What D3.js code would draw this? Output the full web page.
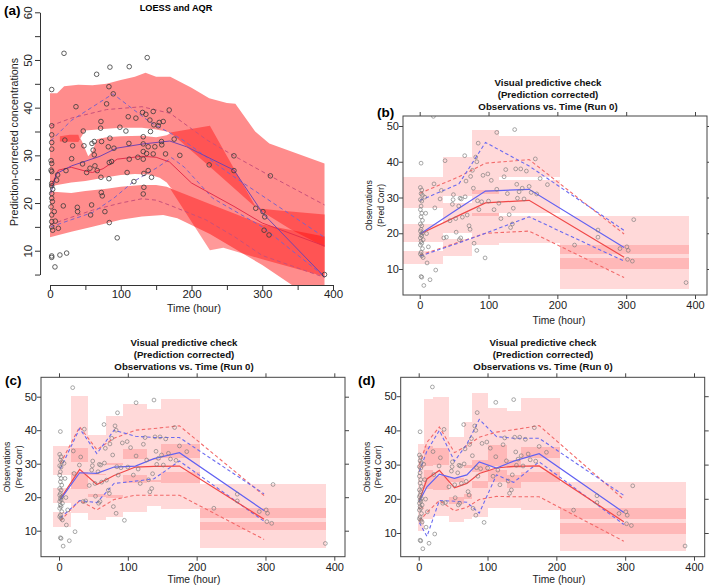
<!DOCTYPE html>
<html><head><meta charset="utf-8">
<script src="https://cdn.jsdelivr.net/npm/d3@7"></script>
<style>body{margin:0;background:#fff}svg{display:block}text{font-family:"Liberation Sans",Arial,Helvetica,sans-serif}</style>
</head><body><svg id="chart" width="709" height="586"></svg>
<script>
// ---------------- DATA ----------------
const xTickLabels = [0, 100, 200, 300, 400];
const vpcYTickLabels = [10, 20, 30, 40, 50];
const aYTickLabels = [10, 20, 30, 40, 50, 60];

// Panel (a): observations [time, conc]
const aObs = [[2.4,43.8],[2.4,36.2],[2.4,34.3],[2.4,32.7],[2.4,31.3],[1.5,28.9],[2.4,28.3],[1.5,26.9],[2.4,26.6],[2.4,24.1],[2.4,23.6],[3.8,22.9],[2.4,22],[2.4,21],[3.3,20.3],[1.5,19.2],[2.4,17.5],[2.4,16.1],[2.4,15],[3.8,14.3],[2.4,8.9],[2.4,8.6],[7,6.6],[6,18.2],[7.5,16.2],[9.4,24.8],[10.8,25.9],[11.8,14.7],[14,9.1],[19.8,51.4],[18.8,19.4],[21,33.2],[23.5,9.5],[22.6,26.8],[30.6,29.3],[32,32],[36.7,40.2],[38.6,19.1],[39,18.2],[47,35.1],[48,32],[51.8,26.4],[46,28.2],[56.5,27.3],[57.4,17.5],[58.8,19.6],[59.3,32.5],[61,31.1],[62.6,30.1],[62.6,32.9],[63.5,27.8],[65.9,47],[66.8,26.8],[71.5,35.7],[72,37.1],[72.9,32.9],[72,25.4],[72.5,22.2],[73.9,21.5],[77.6,18.2],[80,40.8],[82.4,31.8],[83.3,44.4],[83.8,28.5],[83.3,25.1],[83.8,15.9],[84.7,48.5],[84.7,33.6],[87,28.7],[89.4,42.9],[90.4,31.5],[95,12.7],[98.8,35.9],[107.3,35.1],[109,26.4],[110.6,38.1],[112,48.6],[112,29.2],[111.5,32.5],[118.6,24.5],[121.4,37.8],[124.2,29.6],[130.8,39],[131.8,33.9],[131.8,32.4],[131.8,30.8],[131.8,29.2],[131.8,21.9],[132.7,23.3],[132.7,26.2],[135.5,38.6],[137.4,50.5],[136.5,30.4],[138.8,26.8],[138.8,31.8],[141.2,37.4],[142,35],[143.5,25.4],[145.9,39.2],[146.8,36.4],[145.9,30.3],[148.2,31.8],[153,36.2],[154.4,36.9],[157.6,32.9],[158,32.2],[160,37.1],[163.3,30.3],[168.5,39.5],[175.5,33.4],[183.5,30],[225,28],[260,29.9],[260,26.8],[290.8,18.9],[301,18.2],[303.5,17.1],[302.6,14.3],[309.6,13.3],[311.5,25.7],[388,5]];

// Panel (a): prediction bands (top edge, bottom edge) [time, conc]
const aUpperTop = [[0,43],[10,43],[20,44.5],[40,44.8],[60,44.7],[80,45],[100,45.8],[120,46.5],[135,47.3],[150,46.5],[170,46.5],[200,44.2],[225,42],[250,41],[262,40.8],[290,35],[310,32.5],[388,28.3]];
const aUpperBot = [[0,33.6],[16,33.2],[30,32.9],[42,33.4],[50,35.2],[80,35.6],[100,35.8],[130,35.8],[150,35.4],[165,35],[172,34.6],[226,30],[292,18.9],[388,11]];
const aMidTop = [[0,33.6],[16,34.3],[40,34.3],[45,33],[50,31.2],[54,29.8],[60,30.8],[66,33.4],[80,33.8],[100,34],[130,34.1],[150,33.8],[165,34.2],[172,34.8],[226,36.2],[259,27.5],[292,18.9],[388,17.6]];
const aMidBot = [[0,23.4],[10,23.8],[30,24.3],[50,24.6],[80,25.4],[100,25.9],[120,26.1],[140,26],[155,25.3],[165,24.3],[170,23.3],[226,15],[300,9],[388,5]];
const aLowTop = [[0,22.4],[30,22.1],[50,22.5],[80,23],[100,23.4],[130,23.8],[150,23.8],[165,23.4],[170,23.1],[226,19.8],[300,15.5],[388,13]];
const aLowBot = [[0,12.8],[30,14],[60,15],[100,16.5],[130,17.2],[160,17.5],[180,16.8],[226,13.5],[260,10.5],[300,7],[345,2.5],[388,-3]];
// overlapping (darker) regions
const aPatchTop = [[14,34.0],[28,34.3],[40,34.3],[42,33.4]];
const aPatchBot = [[14,32.9],[40,32.8],[42,33.4]];
const aBowTop = [[170,34.8],[226,36.2],[259,27.5],[292,18.9],[320,18.5],[388,17.6]];
const aBowBot = [[170,34.8],[226,27.6],[292,18.9],[340,14.5],[388,10.8]];
const aStripTop = [[169.5,23.1],[226,19.8],[300,15.5],[388,13]];
const aStripBot = [[169.5,23.1],[226,10.1],[245,10.6],[300,8.2],[388,4.6]];
// lines
const aObsMed = [[1,22],[9.4,26.2],[30.6,27.8],[70.6,29.8],[94,31.5],[131.8,32.4],[169.4,33],[193,31.8],[260,26.9],[301,17.8],[388,4.5]];
const aSimMed = [[1,23.4],[12,26.9],[30,27.5],[50,26.7],[60,26.4],[75,27.2],[95,29.2],[130,29.8],[150,29.6],[169,28.6],[200,24.2],[260,19.3],[300,15.8],[388,11]];
const aObsHi = [[1,33],[30,37.3],[89,42.9],[141,37],[188,33.2],[259,25.6],[388,12.8]];
const aSimHi = [[1,36.2],[30,37.8],[80,39.6],[130,40.2],[170,38.8],[222,33.2],[260,29.9],[311,25.7],[388,19.6]];
const aObsLo = [[1,15],[30,16.5],[60,18],[90,21],[118,24.5],[150,27.3],[172,29.5],[190,27.5],[230,21],[300,15],[388,4.6]];
const aSimLo = [[1,15.5],[30,17],[60,18.5],[100,20],[130,20.9],[150,20.6],[170,19.5],[220,16.5],[260,13],[300,9],[388,4.4]];

// Panels (b)-(d): prediction-corrected observations [time, conc]
const vpcObs = [[2,39.6],[1,32.8],[3,32.1],[2,31.1],[4,30.6],[1,29.4],[3,29],[2,27.6],[1,26.6],[3,25.6],[2,24.6],[4,23.6],[1,22.6],[3,22.1],[2,21.1],[1,20.6],[4,20.1],[2,19.6],[3,19.2],[1,18.7],[5,18.2],[2,17.7],[3,17.2],[1,16.7],[4,15.7],[2,14.7],[1,14.2],[3,13.7],[5,13.2],[2,7.9],[3,7.7],[6,5.4],
[7.3,30.1],[8.7,25.6],[10,19.9],[12.6,16.2],[15,7],[10.7,11.7],[20.8,33.8],[22,27.1],[23.3,9.7],[19.9,52.7],[29.6,29.6],[31.5,32],[35,18.7],[36.8,40.3],[38.8,18.9],[47.5,28.1],[49,30.8],[48.5,29.4],[52.3,24.1],[56.7,27.6],[58.6,29.8],[59.6,18.7],[57.6,18.2],[60.5,29.6],[65.4,41.7],[67.3,34.6],[69,25.1],[71.7,22.1],[73.2,21.1],[74,35.9],[76.6,37.6],[78,32.6],[81.4,41.3],[83,40],[85,45.2],[84,29.1],[86,26.6],[79,17.2],[83,15.2],[95,13.1],[99,36.6],[104,34.8],[112,48.2],[112,32.3],[118,24.1],[122.6,35.8],[127.4,31.1],[132,21.6],[134.7,22.6],[138,49],[139.5,38],[142,29.8],[144.4,31.6],[146.8,38],[149,32.6],[151.6,29.6],[159,33.1],[168,40.8],[175,35.3],[185.6,33.6],
[44,23.5],[53,20.3],[62,24.5],[66,30.2],[90,28.8],[92,36.2],[100,29],[108,26.6],[115,28.4],[125,37.8],[130,25.2],[136,27],[141,33.7],[155,37.4],[162,31.4],[170,31],
[225,16.7],[259,20.9],[259,18.9],[291,15.7],[301,16.2],[303,15.2],[302,12.7],[309,12.2],[311,23.8],[387,6.2]];

// bins: [start, end, lo5, hi5, lo50, hi50, lo95, hi95]
const bBins = [[-25,33.6,11.4,15.1,17.6,22.5,27,35.7],[33.6,75.6,13.5,18.5,20,28.5,30.3,41.3],[75.6,115.6,16.7,25.8,24.8,32.2,31,48.9],[115.6,204,17.2,24.7,25.6,34.8,35.8,47.2],[204,391,4.4,13,10,16.7,14.2,24.8]];
const bLineX = [0.5, 57, 95.6, 159, 297];
const bObsMed = [19.8, 27, 31.8, 32.3, 16];
const bSimMed = [19.8, 25, 28.5, 29.2, 13.3];
const bObsHi = [29.2, 33.8, 45.4, 38.8, 20.8];
const bSimHi = [31.2, 35.8, 39.6, 40.6, 19.8];
const bObsLo = [13.6, 17.3, 20, 24.6, 12.2];
const bSimLo = [13.9, 17.5, 20, 20.6, 7.6];

const cBins = [[-9,17,11,15.7,18.2,22.6,26.6,35.3],[17,42.6,15.3,27.6,22.5,34.7,30.6,50.2],[42.6,67.8,13.2,21,20.2,27,26.5,38.6],[67.8,92.5,14.1,20.6,19.8,30.3,29.6,44.1],[92.5,127.4,15.7,26.6,24.1,34.4,31.4,47.8],[127.4,148.3,17.4,25,24.5,31.5,31,46.4],[148.3,204.5,16.4,27.4,24.1,35.8,31.8,49.3],[204.5,388,4.7,12.7,10.2,16.7,13.9,23.8]];
const cLineX = [2, 30, 55, 80, 111, 138, 175, 298];
const cObsMed = [19.3, 27.3, 27.1, 29.0, 29.3, 31.5, 33.3, 16];
const cSimMed = [19.5, 28.3, 23.8, 26.5, 29, 29.2, 29.3, 13.4];
const cObsHi = [28.5, 40.5, 33, 40, 38.2, 37.8, 37.8, 21];
const cSimHi = [30, 41, 34.2, 37.6, 40, 40.5, 41.3, 20.5];
const cObsLo = [13.8, 19, 18.4, 24.1, 24.8, 25.5, 30.8, 12.8];
const cSimLo = [13, 19, 16.2, 19.3, 20.6, 20.6, 20.6, 7.4];

const dBins = [[-1,7,10.5,17.5,17,30,29,35.9],[7,21,14,28.5,23,35.5,29.5,49.3],[21,43.5,14.9,26.8,22.5,35,30,49.9],[43.5,65.2,13.2,20.5,18.5,26,25,38.2],[65.2,77.3,14,21.5,20,30,29,42.5],[77.3,101.4,14.8,25.3,23.1,31.4,27.7,50.8],[101.4,128,17.2,28.4,25,35.8,29.5,46.5],[128,148.8,17.3,27,23.1,31.4,28.9,45.7],[148.8,205,16.6,27.7,24.8,35.2,31.8,49.6],[205,388,4.7,12.9,9.8,17.3,14.1,24.8]];
const dLineX = [1, 12, 30, 52, 70, 88, 113, 138, 175, 298];
const dObsMed = [19.3, 23.5, 27.2, 26, 27, 30.8, 29, 31, 33.2, 16];
const dSimMed = [19.5, 25.8, 28.3, 23.2, 24.5, 27.4, 29, 29.5, 29.6, 13.3];
const dObsHi = [28, 34, 40, 31, 36, 43.2, 38.2, 37.7, 37.7, 21];
const dSimHi = [30, 36.5, 41, 33.5, 35.5, 38, 39.5, 40.2, 41.4, 19.8];
const dObsLo = [13, 9, 19.5, 19.3, 19, 15.8, 27, 24.8, 30.8, 12.5];
const dSimLo = [13.5, 16, 19.5, 16.5, 17.5, 19.8, 20.7, 20.6, 20.6, 7.6];

const vpcTitle = ["Visual predictive check", "(Prediction corrected)", "Observations vs. Time (Run 0)"];

// ---------------- DRAW ----------------
const svg = d3.select("#chart");
const defs = svg.append("defs");

// ===== Panel (a) =====
const aX = d3.scaleLinear().domain([0, 400]).range([50, 333]);
const aY = d3.scaleLinear().domain([5, 60]).range([274.55, 12.3]);
defs.append("clipPath").attr("id", "clipA").append("rect").attr("x", 41).attr("y", 0).attr("width", 300).attr("height", 285);
const aLine = d3.line().x(d => aX(d[0])).y(d => aY(d[1]));
const band = (top, bot) => aLine(top.concat(bot.slice().reverse())) + "Z";
const gA = svg.append("g").attr("clip-path", "url(#clipA)");
[[aUpperTop, aUpperBot], [aMidTop, aMidBot], [aLowTop, aLowBot]].forEach(([t, b]) =>
  gA.append("path").attr("d", band(t, b)).attr("fill", "#ff8c8c"));
[[aPatchTop, aPatchBot], [aBowTop, aBowBot], [aStripTop, aStripBot]].forEach(([t, b]) =>
  gA.append("path").attr("d", band(t, b)).attr("fill", "#ff0000").attr("fill-opacity", 0.4));
[[aSimHi, "#c9507a", "4,3"], [aSimLo, "#c9507a", "4,3"], [aObsHi, "#7d62c8", "4,3"], [aObsLo, "#7d62c8", "4,3"],
 [aSimMed, "#e2304c", null], [aObsMed, "#7444b0", null]].forEach(([pts, col, dash]) =>
  gA.append("path").attr("d", aLine(pts)).attr("fill", "none").attr("stroke", col).attr("stroke-width", 1)
    .attr("stroke-dasharray", dash));
gA.selectAll("circle.a").data(aObs).join("circle").attr("cx", d => aX(d[0])).attr("cy", d => aY(d[1]))
  .attr("r", 2.3).attr("fill", "none").attr("stroke", "#3a3a3a").attr("stroke-width", 0.8);

const ayAxis = svg.append("g").attr("transform", "translate(40,0)")
  .call(d3.axisLeft(aY).tickValues(d3.range(5, 61, 5)).tickSize(5).tickSizeOuter(0)
    .tickFormat(d => aYTickLabels.includes(d) ? d : ""));
ayAxis.selectAll("text").attr("x", 0).attr("dy", 0).attr("text-anchor", "middle")
  .attr("transform", "translate(-8,0) rotate(-90)").style("font-size", "11.5px").attr("fill", "#222");
const axAxis = svg.append("g").attr("transform", "translate(0,285)")
  .call(d3.axisBottom(aX).tickValues(d3.range(0, 401, 50)).tickSize(5).tickSizeOuter(0)
    .tickFormat(d => xTickLabels.includes(d) ? d : ""));
axAxis.selectAll("text").style("font-size", "11.5px").attr("fill", "#222").attr("y", 5);
svg.selectAll(".domain, .tick line").attr("stroke", "#333");
svg.append("text").attr("x", 194).attr("y", 312).attr("text-anchor", "middle").style("font-size", "10.5px").attr("fill", "#222").text("Time (hour)");
svg.append("text").attr("transform", "translate(14,142) rotate(-90)").attr("text-anchor", "middle")
  .attr("dominant-baseline", "central").style("font-size", "10.7px").attr("fill", "#222").text("Prediction-corrected concentrations");
svg.append("text").attr("x", 176).attr("y", 11).attr("text-anchor", "middle").style("font-size", "9.2px").style("font-weight", "bold").text("LOESS and AQR");
svg.append("text").attr("x", 4).attr("y", 15).style("font-size", "13.5px").style("font-weight", "bold").text("(a)");

// ===== VPC panels =====
function drawVpc(cfg) {
  const x = d3.scaleLinear().domain([0, 400]).range(cfg.xr);
  const y = d3.scaleLinear().domain([10, 50]).range(cfg.yr);
  const [bl, bt, br, bb] = cfg.box;
  defs.append("clipPath").attr("id", "clip" + cfg.id).append("rect").attr("x", bl).attr("y", bt).attr("width", br - bl).attr("height", bb - bt);
  const g = svg.append("g");
  const p = g.append("g").attr("clip-path", `url(#clip${cfg.id})`);
  cfg.bins.forEach(b => {
    [[b[2], b[3]], [b[4], b[5]], [b[6], b[7]]].forEach(([lo, hi]) =>
      p.append("rect").attr("x", x(b[0])).attr("width", x(b[1]) - x(b[0])).attr("y", y(hi)).attr("height", y(lo) - y(hi))
        .attr("fill", "#ff0000").attr("fill-opacity", 0.15).attr("shape-rendering", "crispEdges"));
  });
  const ln = d3.line().x(d => x(d[0])).y(d => y(d[1]));
  const series = [[cfg.simHi, "#f26a6a", true], [cfg.simLo, "#f26a6a", true], [cfg.obsHi, "#6a6af0", true], [cfg.obsLo, "#6a6af0", true],
    [cfg.simMed, "#f04848", false], [cfg.obsMed, "#6262f2", false]];
  series.forEach(([vals, col, dashed]) =>
    p.append("path").attr("d", ln(cfg.lineX.map((t, i) => [t, vals[i]]))).attr("fill", "none").attr("stroke", col)
      .attr("stroke-width", dashed ? 1.1 : 1.2).attr("stroke-dasharray", dashed ? "3.5,2.5" : null));
  p.selectAll("circle").data(vpcObs).join("circle").attr("cx", d => x(d[0])).attr("cy", d => y(d[1]))
    .attr("r", 1.9).attr("fill", "none").attr("stroke", "#7a7a7a").attr("stroke-width", 0.65);
  g.append("rect").attr("x", bl).attr("y", bt).attr("width", br - bl).attr("height", bb - bt).attr("fill", "none").attr("stroke", "#444").attr("stroke-width", 1);
  const ax1 = g.append("g").attr("transform", `translate(0,${bb})`).call(d3.axisBottom(x).tickValues(xTickLabels).tickSize(4).tickSizeOuter(0));
  ax1.selectAll("text").attr("y", 6.5).style("font-size", "11px").attr("fill", "#222");
  g.append("g").attr("transform", `translate(0,${bt})`).call(d3.axisTop(x).tickValues(xTickLabels).tickSize(4).tickSizeOuter(0).tickFormat(""));
  const ay1 = g.append("g").attr("transform", `translate(${bl},0)`).call(d3.axisLeft(y).tickValues(vpcYTickLabels).tickSize(4).tickSizeOuter(0));
  ay1.selectAll("text").attr("x", -4).style("font-size", "11px").attr("fill", "#222");
  g.append("g").attr("transform", `translate(${br},0)`).call(d3.axisRight(y).tickValues(vpcYTickLabels).tickSize(4).tickSizeOuter(0).tickFormat(""));
  g.selectAll(".domain").remove();
  g.selectAll(".tick line").attr("stroke", "#444");
  vpcTitle.forEach((t, i) => g.append("text").attr("x", cfg.titleX).attr("y", cfg.titleY + i * 12).attr("text-anchor", "middle")
    .style("font-size", "9.7px").style("font-weight", "bold").attr("fill", "#111").text(t));
  g.append("text").attr("x", cfg.xlabX).attr("y", bb + cfg.xlabDy).attr("text-anchor", "middle").style("font-size", "10.3px").attr("fill", "#222").text("Time (hour)");
  const cy = (bt + bb) / 2;
  g.append("text").attr("transform", `translate(${bl - 34},${cy}) rotate(-90)`).attr("text-anchor", "middle").attr("dominant-baseline", "central")
    .style("font-size", "8.6px").attr("fill", "#222").text("Observations");
  g.append("text").attr("transform", `translate(${bl - 22.5},${cy}) rotate(-90)`).attr("text-anchor", "middle").attr("dominant-baseline", "central")
    .style("font-size", "8.6px").attr("fill", "#222").text("(Pred Corr)");
  g.append("text").attr("x", cfg.labelX).attr("y", cfg.labelY).style("font-size", "13.5px").style("font-weight", "bold").text(cfg.label);
}

drawVpc({ id: "B", label: "(b)", labelX: 377, labelY: 117, box: [403, 116, 707, 295], xr: [419.7, 695], yr: [269, 126],
  titleX: 548, titleY: 85.5, xlabX: 559, xlabDy: 29, bins: bBins, lineX: bLineX,
  obsMed: bObsMed, simMed: bSimMed, obsHi: bObsHi, simHi: bSimHi, obsLo: bObsLo, simLo: bSimLo });
drawVpc({ id: "C", label: "(c)", labelX: 5, labelY: 385, box: [41, 377.3, 345, 556.7], xr: [59, 334.3], yr: [530.7, 396.7],
  titleX: 184, titleY: 346, xlabX: 194, xlabDy: 26.5, bins: cBins, lineX: cLineX,
  obsMed: cObsMed, simMed: cSimMed, obsHi: cObsHi, simHi: cSimHi, obsLo: cObsLo, simLo: cSimLo });
drawVpc({ id: "D", label: "(d)", labelX: 358, labelY: 385, box: [400.7, 377.3, 704.7, 556.7], xr: [418.7, 694], yr: [533, 396.2],
  titleX: 543, titleY: 346, xlabX: 559, xlabDy: 26.5, bins: dBins, lineX: dLineX,
  obsMed: dObsMed, simMed: dSimMed, obsHi: dObsHi, simHi: dSimHi, obsLo: dObsLo, simLo: dSimLo });
</script></body></html>
